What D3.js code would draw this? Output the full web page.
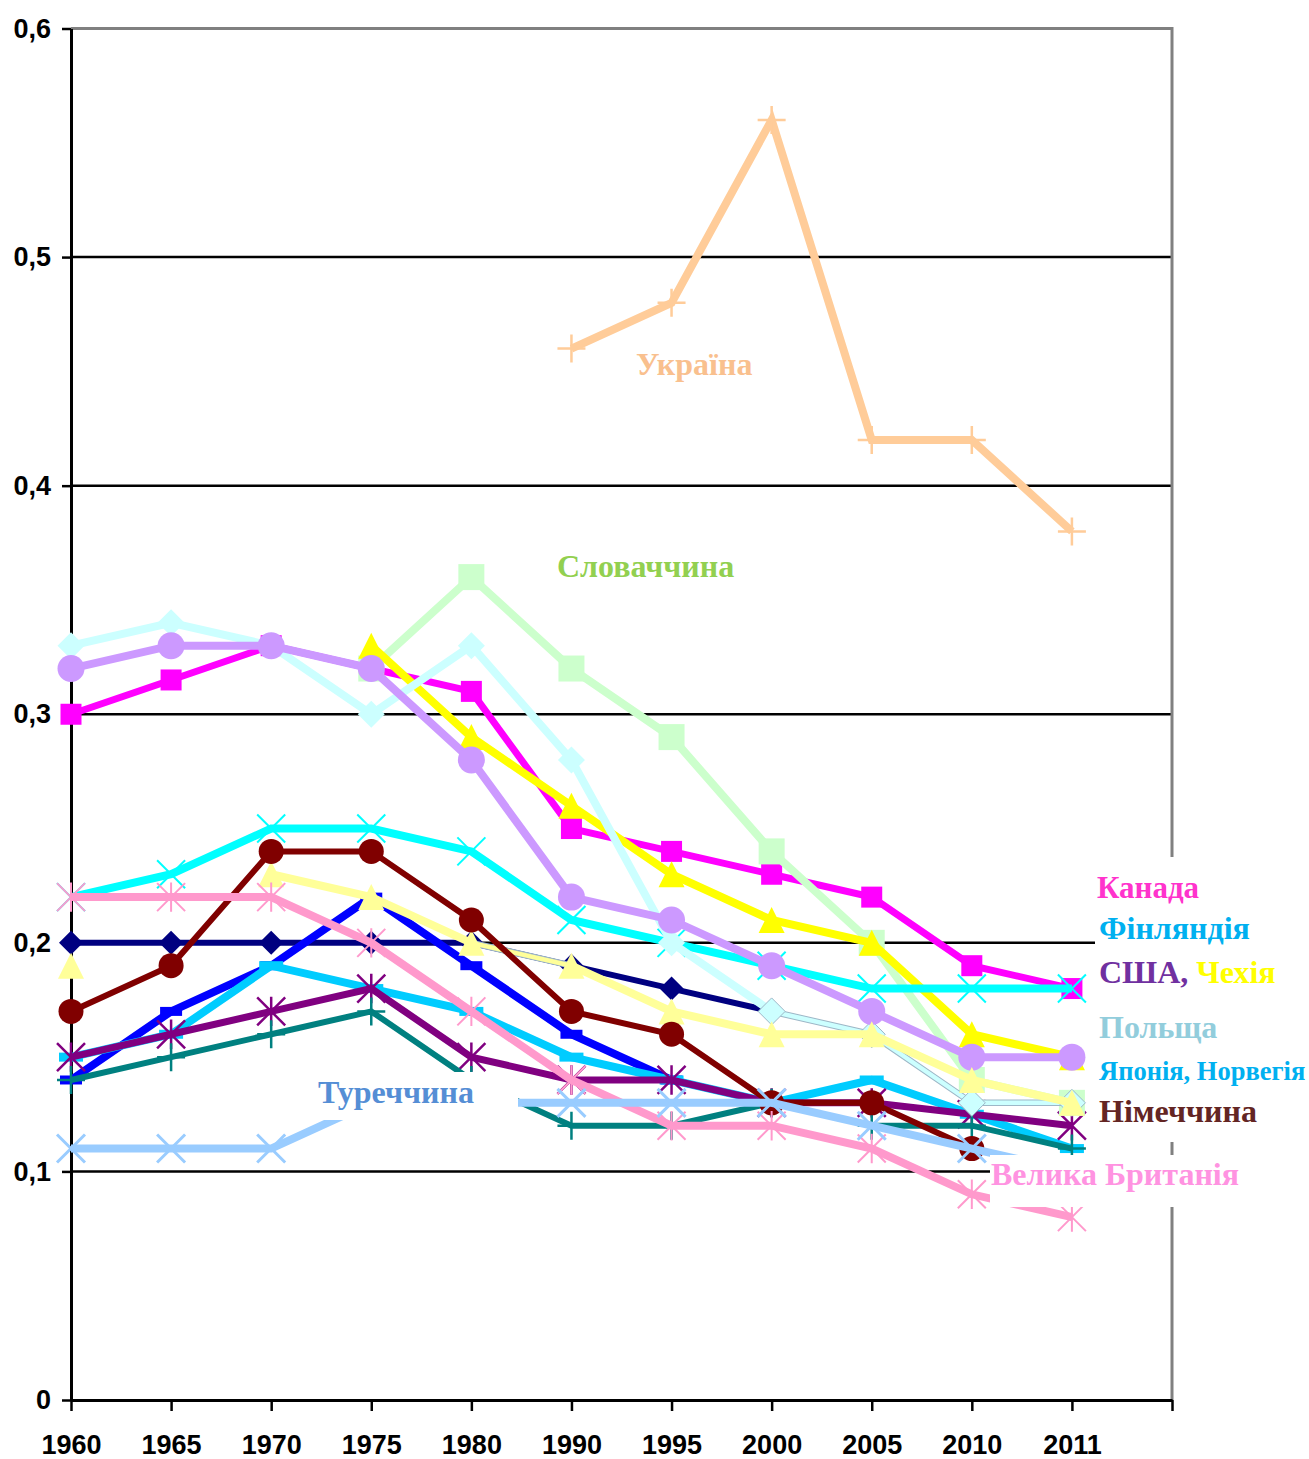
<!DOCTYPE html>
<html>
<head>
<meta charset="utf-8">
<script src="https://cdn.jsdelivr.net/npm/d3@7"></script>
<style>
  body { margin: 0; background: #fff; }
</style>
</head>
<body>
<div id="chart"></div>
<script>
// categories on the x axis (one empty slot closes the plot on the right)
var years = ['1960', '1965', '1970', '1975', '1980', '1990', '1995', '2000', '2005', '2010', '2011'];
var yTicks = [0, 0.1, 0.2, 0.3, 0.4, 0.5, 0.6];

// series values (null = no point)
var canada      = [0.30, 0.315, 0.33, 0.32, 0.31, 0.25, 0.24, 0.23, 0.22, 0.19, 0.18];
var slovakia    = [null, null, null, 0.32, 0.36, 0.32, 0.29, 0.24, 0.20, 0.14, 0.13];
var ukraine     = [null, null, null, null, null, 0.46, 0.48, 0.56, 0.42, 0.42, 0.38];
var poland      = [0.33, 0.34, 0.33, 0.30, 0.33, 0.28, 0.20, 0.17, 0.16, 0.13, 0.13];
var lavender    = [0.32, 0.33, 0.33, 0.32, 0.28, 0.22, 0.21, 0.19, 0.17, 0.15, 0.15];
var czech       = [null, null, null, 0.33, 0.29, 0.26, 0.23, 0.21, 0.20, 0.16, 0.15];
var finland     = [0.22, 0.23, 0.25, 0.25, 0.24, 0.21, 0.20, 0.19, 0.18, 0.18, 0.18];
var germany     = [0.17, 0.19, 0.24, 0.24, 0.21, 0.17, 0.16, 0.13, 0.13, 0.11, null];
var paleYellow  = [0.19, null, 0.23, 0.22, 0.20, 0.19, 0.17, 0.16, 0.16, 0.14, 0.13];
var navy        = [0.20, 0.20, 0.20, 0.20, 0.20, 0.19, 0.18, 0.17, null, null, null];
var blue        = [0.14, 0.17, 0.19, 0.22, 0.19, 0.16, 0.14, null, null, null, null];
var skyBlue     = [0.15, 0.16, 0.19, 0.18, 0.17, 0.15, 0.14, 0.13, 0.14, 0.125, 0.11];
var usa         = [0.15, 0.16, 0.17, 0.18, 0.15, 0.14, 0.14, 0.13, 0.13, 0.125, 0.12];
var teal        = [0.14, 0.15, 0.16, 0.17, 0.14, 0.12, 0.12, 0.13, 0.12, 0.12, 0.11];
var turkey      = [0.11, 0.11, 0.11, 0.13, 0.13, 0.13, 0.13, 0.13, 0.12, 0.11, 0.10];
var uk          = [0.22, 0.22, 0.22, 0.20, 0.17, 0.14, 0.12, 0.12, 0.11, 0.09, 0.08];

// drawing order, back to front, with look of each line
var series = [
  {values: navy,       color: '#000080', width: 6, marker: 'diamond',  size: 24},
  {values: blue,       color: '#0000FF', width: 8, marker: 'dash',     size: 22},
  {values: skyBlue,    color: '#00CCFF', width: 8, marker: 'dash',     size: 24},
  {values: usa,        color: '#800080', width: 7, marker: 'asterisk', size: 28, mw: 2.5},
  {values: teal,       color: '#008080', width: 6, marker: 'plus',     size: 28, mw: 2.5},
  {values: canada,     color: '#FF00FF', width: 7, marker: 'square',   size: 21},
  {values: slovakia,   color: '#CCFFCC', width: 8, marker: 'square',   size: 26},
  {values: czech,      color: '#FFFF00', width: 8, marker: 'triangle', size: 26},
  {values: finland,    color: '#00FFFF', width: 8, marker: 'x',        size: 28, mw: 2},
  {values: poland,     color: '#CCFFFF', width: 8, marker: 'diamond',  size: 27, thin: [7, 8, 9], edgeFrom: 7},
  {values: lavender,   color: '#CC99FF', width: 8, marker: 'circle',   size: 27},
  {values: paleYellow, color: '#FFFF99', width: 8, marker: 'triangle', size: 26, thin: [4]},
  {values: germany,    color: '#800000', width: 6, marker: 'circle',   size: 25},
  {values: uk,         color: '#FF99CC', width: 8, marker: 'asterisk', size: 28, mw: 2},
  {values: turkey,     color: '#99CCFF', width: 8, marker: 'x',        size: 28, mw: 3},
  {values: ukraine,    color: '#FFCC99', width: 8, marker: 'plus',     size: 28, mw: 2.5}
];

var width = 1309, height = 1459;
var plotLeft = 71, plotRight = 1172, plotTop = 28.5, plotBottom = 1400;

var svg = d3.select('#chart').append('svg')
  .attr('width', width)
  .attr('height', height);

var x = d3.scalePoint().domain(years.concat([' '])).range([plotLeft, plotRight]);
var y = d3.scaleLinear().domain([0, 0.6]).range([plotBottom, plotTop]);

// gridlines
svg.append('g').selectAll('line')
  .data(yTicks.filter(function(d) { return d > 0 && d < 0.6; }))
  .enter().append('line')
  .attr('x1', plotLeft).attr('x2', plotRight)
  .attr('y1', function(d) { return y(d); })
  .attr('y2', function(d) { return y(d); })
  .attr('stroke', '#000').attr('stroke-width', 2.5);

// plot area border top / right
svg.append('path')
  .attr('d', 'M' + plotLeft + ',' + y(0.6) + 'H' + plotRight + 'V' + plotBottom)
  .attr('fill', 'none').attr('stroke', '#808080').attr('stroke-width', 3);

function fmt(d) {
  return d === 0 ? '0' : d.toFixed(1).replace('.', ',');
}

var yAxis = svg.append('g')
  .attr('transform', 'translate(' + plotLeft + ',0)')
  .call(d3.axisLeft(y).tickValues(yTicks).tickSize(9).tickSizeOuter(0).tickPadding(11).tickFormat(fmt));

var xAxis = svg.append('g')
  .attr('transform', 'translate(0,' + plotBottom + ')')
  .call(d3.axisBottom(x).tickSize(11).tickSizeOuter(0).tickPadding(24));

[yAxis, xAxis].forEach(function(g) {
  g.select('.domain').attr('stroke', '#000').attr('stroke-width', 3);
  g.selectAll('.tick line').attr('stroke', '#000').attr('stroke-width', 2.5);
  g.selectAll('text')
    .attr('fill', '#000')
    .style('font-family', '"Liberation Sans", Arial, sans-serif')
    .style('font-weight', 'bold')
    .style('font-size', '27px');
});

// split a series into runs of thick / thin segments
function pieces(vals, thin) {
  var out = [], cur = null;
  for (var i = 0; i < vals.length - 1; i++) {
    if (vals[i] == null || vals[i + 1] == null) { cur = null; continue; }
    var t = thin.indexOf(i) >= 0;
    if (!cur || cur.thin !== t) {
      cur = {thin: t, idx: [i]};
      out.push(cur);
    }
    cur.idx.push(i + 1);
  }
  return out;
}

function markerPath(type, s) {
  var h = s / 2;
  switch (type) {
    case 'square':   return 'M' + (-h) + ',' + (-h) + 'h' + s + 'v' + s + 'h' + (-s) + 'Z';
    case 'diamond':  return 'M0,' + (-h) + 'L' + h + ',0L0,' + h + 'L' + (-h) + ',0Z';
    case 'triangle': return 'M0,' + (-h) + 'L' + h + ',' + h + 'L' + (-h) + ',' + h + 'Z';
    case 'dash':     return 'M' + (-h) + ',-4.5h' + s + 'v9h' + (-s) + 'Z';
    case 'x':        return 'M' + (-h) + ',' + (-h) + 'L' + h + ',' + h + 'M' + (-h) + ',' + h + 'L' + h + ',' + (-h);
    case 'plus':     return 'M0,' + (-h) + 'V' + h + 'M' + (-h) + ',0H' + h;
    case 'asterisk': return 'M' + (-h) + ',' + (-h) + 'L' + h + ',' + h + 'M' + (-h) + ',' + h + 'L' + h + ',' + (-h) + 'M0,' + (-h * 1.05) + 'V' + (h * 1.05);
    case 'circle':   return d3.arc()({innerRadius: 0, outerRadius: h, startAngle: 0, endAngle: 2 * Math.PI});
  }
}

var stroked = ['x', 'plus', 'asterisk'];
var edgeColor = '#9DB7C7';

var plot = svg.append('g');

series.forEach(function(s) {
  var g = plot.append('g');
  var line = d3.line()
    .x(function(i) { return x(years[i]); })
    .y(function(i) { return y(s.values[i]); });

  pieces(s.values, s.thin || []).forEach(function(p) {
    var d = line(p.idx);
    if (p.thin) {
      g.append('path').attr('d', d).attr('fill', 'none')
        .attr('stroke', edgeColor).attr('stroke-width', 6.5);
      g.append('path').attr('d', d).attr('fill', 'none')
        .attr('stroke', s.color).attr('stroke-width', 4.5);
    } else {
      g.append('path').attr('d', d).attr('fill', 'none')
        .attr('stroke', s.color).attr('stroke-width', s.width)
        .attr('stroke-linejoin', 'miter');
    }
  });

  var pts = s.values.map(function(v, i) { return {v: v, i: i}; })
    .filter(function(d) { return d.v != null; });
  var isStroke = stroked.indexOf(s.marker) >= 0;
  g.selectAll('path.mk')
    .data(pts)
    .enter().append('path')
    .attr('class', 'mk')
    .attr('transform', function(d) { return 'translate(' + x(years[d.i]) + ',' + y(d.v) + ')'; })
    .attr('d', markerPath(s.marker, s.size))
    .attr('fill', isStroke ? 'none' : s.color)
    .attr('stroke', function(d) {
      if (isStroke) return s.color;
      return (s.edgeFrom != null && d.i >= s.edgeFrom) ? edgeColor : 'none';
    })
    .attr('stroke-width', isStroke ? s.mw : 1);
});

// text boxes (white background hides what lies under them)
var boxes = [
  {x: 318, y: 1072, w: 200, h: 48},
  {x: 990, y: 1155, w: 260, h: 52},
  {x: 1095, y: 857, w: 214, h: 285}
];
svg.append('g').selectAll('rect')
  .data(boxes).enter().append('rect')
  .attr('x', function(d) { return d.x; })
  .attr('y', function(d) { return d.y; })
  .attr('width', function(d) { return d.w; })
  .attr('height', function(d) { return d.h; })
  .attr('fill', '#fff');

var labels = [
  {parts: [['Україна', '#F9C08E']], x: 636, y: 375, size: 32},
  {parts: [['Словаччина', '#92D050']], x: 557, y: 577, size: 32},
  {parts: [['Канада', '#FF33CC']], x: 1097, y: 898, size: 31},
  {parts: [['Фінляндія', '#00B0F0']], x: 1099, y: 939, size: 32},
  {parts: [['США, ', '#7030A0'], ['Чехія', '#FFFF00']], x: 1099, y: 983, size: 32},
  {parts: [['Польща', '#92CDDC']], x: 1099, y: 1038, size: 32},
  {parts: [['Японія, Норвегія', '#00B0F0']], x: 1099, y: 1080, size: 26.5},
  {parts: [['Німеччина', '#632523']], x: 1099, y: 1122, size: 32},
  {parts: [['Велика Британія', '#FF93E1']], x: 991, y: 1185, size: 32},
  {parts: [['Туреччина', '#558ED5']], x: 318, y: 1103, size: 32}
];

var lab = svg.append('g').selectAll('text')
  .data(labels).enter().append('text')
  .attr('x', function(d) { return d.x; })
  .attr('y', function(d) { return d.y; })
  .style('font-family', '"Liberation Serif", "Times New Roman", serif')
  .style('font-weight', 'bold')
  .style('font-size', function(d) { return d.size + 'px'; });

lab.selectAll('tspan')
  .data(function(d) { return d.parts; })
  .enter().append('tspan')
  .attr('fill', function(p) { return p[1]; })
  .text(function(p) { return p[0]; });
</script>
</body>
</html>
